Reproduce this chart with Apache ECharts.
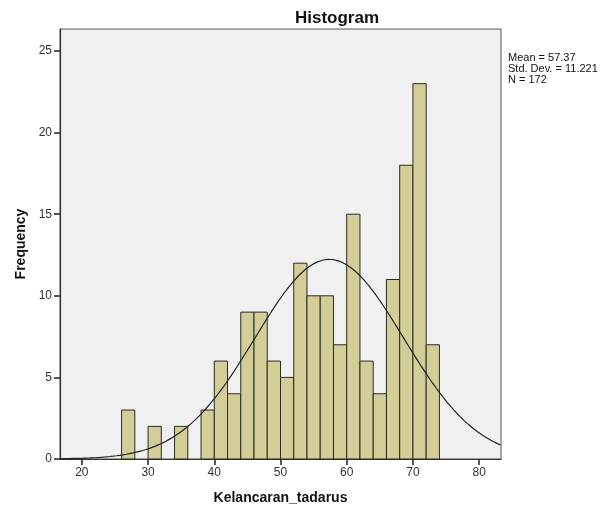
<!DOCTYPE html>
<html>
<head>
<meta charset="utf-8">
<script src="https://cdn.jsdelivr.net/npm/echarts@6/dist/echarts.min.js"></script>
<style>html,body{margin:0;padding:0;background:#fff}#c{width:603px;height:508px}</style>
</head>
<body>
<div id="c"></div>
<script>
// Histogram bins (width 2) and frequencies
var binStarts = [26,28,30,32,34,36,38,40,42,44,46,48,50,52,54,56,58,60,62,64,66,68,70,72];
var binWidth = 2;
var frequencies = [3,0,2,0,2,0,3,6,4,9,9,6,5,12,10,10,7,15,6,4,11,18,23,7];
var xTicks = [20,30,40,50,60,70,80];
var yTicks = [0,5,10,15,20,25];
var statMean = 57.37;
var statSD = 11.221;
var statN = 172;

var barData = [];
for (var i = 0; i < binStarts.length; i++) {
  if (frequencies[i] > 0) barData.push([binStarts[i], binStarts[i] + binWidth, frequencies[i]]);
}
// Normal curve derived from the stated mean, SD and N
var curve = [];
var xmin = 16.7, xmax = 83.3;
for (var x = xmin; x <= xmax + 1e-9; x += 0.25) {
  var z = (x - statMean) / statSD;
  curve.push([x, statN * binWidth * Math.exp(-0.5 * z * z) / (statSD * Math.sqrt(2 * Math.PI))]);
}

var chart = echarts.init(document.getElementById('c'));
var labelStyle = {color: '#333', fontSize: 12, fontFamily: 'Liberation Sans, Arial, sans-serif'};
chart.setOption({
  animation: false,
  title: [
    {text: 'Histogram', left: 332, top: 5, textAlign: 'center',
     textStyle: {fontSize: 17, fontWeight: 'bold', color: '#111', fontFamily: 'Liberation Sans, Arial, sans-serif'}},
  ],
  graphic: [
    {type: 'text', left: 508, top: 52, style: {text: 'Mean = ' + statMean + '\nStd. Dev. = ' + statSD + '\nN = ' + statN,
      fontSize: 11, lineHeight: 11, fill: '#111', fontFamily: 'Liberation Sans, Arial, sans-serif'}}
  ],
  grid: {left: 60, right: 102, top: 29, bottom: 49, outerBoundsMode: 'none', containLabel: false,
         show: true, backgroundColor: '#f0f0f0', borderColor: '#555', borderWidth: 1},
  xAxis: {
    type: 'value', min: xmin, max: xmax,
    name: 'Kelancaran_tadarus', nameLocation: 'middle', nameGap: 32,
    nameTextStyle: {fontSize: 14, fontWeight: 'bold', color: '#111', fontFamily: 'Liberation Sans, Arial, sans-serif'},
    axisLine: {show: true, lineStyle: {color: '#333', width: 1.2}},
    axisTick: {show: true, inside: false, customValues: xTicks, length: 6, lineStyle: {color: '#222', width: 1.5}},
    axisLabel: Object.assign({customValues: xTicks, margin: 8}, labelStyle),
    splitLine: {show: false}
  },
  yAxis: {
    type: 'value', min: 0, max: 26.35,
    name: 'Frequency', nameLocation: 'middle', nameGap: 32, nameRotate: 90,
    nameTextStyle: {fontSize: 14, fontWeight: 'bold', color: '#111', fontFamily: 'Liberation Sans, Arial, sans-serif'},
    axisLine: {show: true, lineStyle: {color: '#333', width: 1.2}},
    axisTick: {show: true, inside: false, customValues: yTicks, length: 6, lineStyle: {color: '#222', width: 1.5}},
    axisLabel: Object.assign({customValues: yTicks, margin: 8}, labelStyle),
    splitLine: {show: false}
  },
  series: [
    {
      type: 'custom',
      data: barData,
      encode: {x: [0, 1], y: 2},
      renderItem: function (params, api) {
        var p0 = api.coord([api.value(0), 0]);
        var p1 = api.coord([api.value(1), api.value(2)]);
        return {
          type: 'rect',
          shape: {x: p0[0], y: p1[1], width: p1[0] - p0[0], height: p0[1] - p1[1]},
          style: {fill: '#d3ce98', stroke: '#2b2b20', lineWidth: 1}
        };
      },
      z: 2
    },
    {
      type: 'line', data: curve, showSymbol: false, smooth: false,
      lineStyle: {color: '#222', width: 1.2}, z: 3
    }
  ]
});
</script>
</body>
</html>
